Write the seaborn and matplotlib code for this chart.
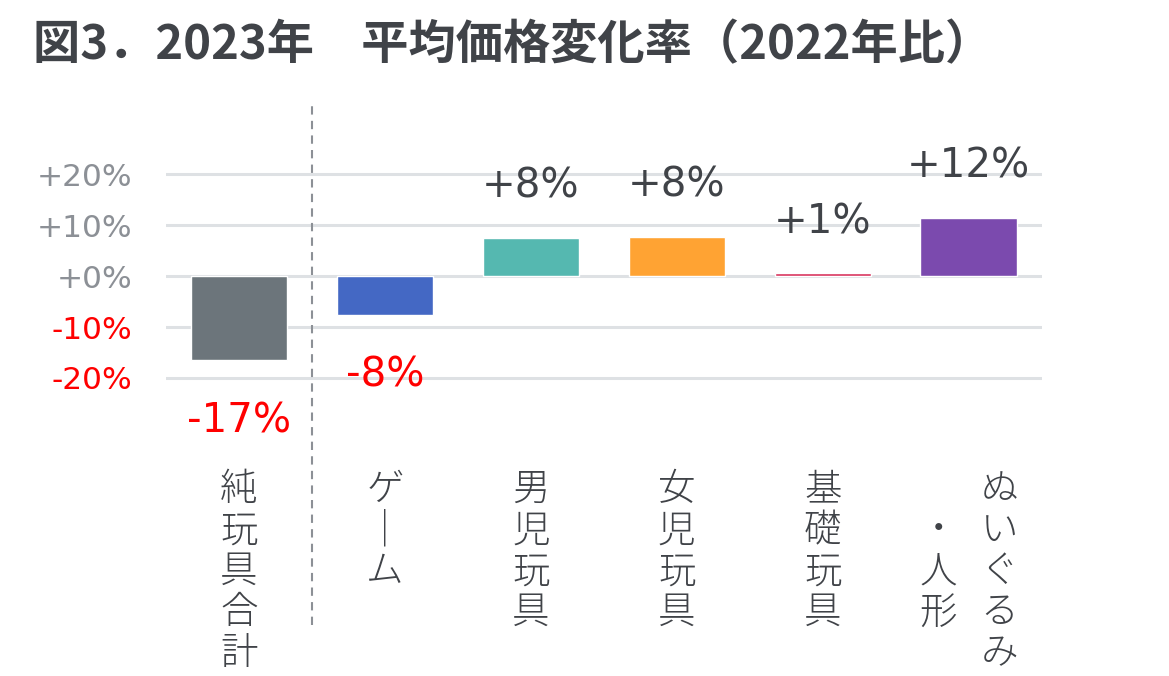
import matplotlib as mpl
import matplotlib.pyplot as plt
import seaborn as sns
import pandas as pd

# data
categories = ["純玩具合計", "ゲーム", "男児玩具", "女児玩具", "基礎玩具", "ぬいぐるみ・人形"]
values = [-16.5, -7.6, 7.5, 7.6, 0.5, 11.4]
value_labels = ["-17%", "-8%", "+8%", "+8%", "+1%", "+12%"]
bar_colors = ["#6c757b", "#4468c4", "#55b8b0", "#ffa333", "#d8315b", "#7b4aae"]
y_ticks = [-20, -10, 0, 10, 20]
y_tick_labels = ["-20%", "-10%", "+0%", "+10%", "+20%"]
title = "図3．2023年　平均価格変化率（2022年比）"

sns.set_theme(style="white")
plt.rcParams['font.family'] = ['DejaVu Sans', 'Noto Sans CJK JP']
cjk = ['Noto Sans CJK JP', 'DejaVu Sans']

dark = "#404348"
red = "#ff0000"
gray = "#8c9096"


def vertical(s):
    # stack characters top to bottom, long vowel mark turned upright
    return "\n".join(s.replace("ー", "｜"))


df = pd.DataFrame({"cat": categories, "val": values})

fig = plt.figure(figsize=(11.69, 6.76), dpi=100)
ax = fig.add_axes([0.142, 0.4333, 0.749, 0.3167])

sns.barplot(data=df, x="cat", y="val", hue="cat", palette=bar_colors,
            width=0.66, saturation=1, legend=False, ax=ax, zorder=3)

ax.set_ylim(-21, 21)
ax.set_xlim(-0.5, len(categories) - 0.5)
ax.set_yticks(y_ticks)
ax.set_yticklabels(y_tick_labels)
for t, v in zip(ax.get_yticklabels(), y_ticks):
    t.set_color(red if v < 0 else gray)
ax.tick_params(axis='y', length=0, pad=24, labelsize=22.5)
ax.set_xticks([])
ax.set_xlabel("")
ax.set_ylabel("")
ax.grid(axis='y', color="#dee1e4", lw=2.2, zorder=0)
for s in ax.spines.values():
    s.set_visible(False)

# value labels
for i, (v, lab) in enumerate(zip(values, value_labels)):
    if v >= 0:
        ax.annotate(lab, (i, v), xytext=(0, 37), textcoords="offset points",
                    ha="center", va="center", fontsize=29, color=dark)
    else:
        ax.annotate(lab, (i, v), xytext=(0, -44), textcoords="offset points",
                    ha="center", va="center", fontsize=29, color=red)

# vertical category labels
for i, c in enumerate(categories):
    if "・" in c:
        right, left = c.split("・")
        cols = [(vertical(right), 22), ("\u3000\n・\n" + vertical(left), -22)]
    else:
        cols = [(vertical(c), 0)]
    for txt, dx in cols:
        ax.annotate(txt, (i, -38), xytext=(dx, 0), textcoords="offset points",
                    ha="center", va="top", fontsize=27, color=dark,
                    family=cjk, fontweight="light", linespacing=1.05,
                    annotation_clip=False)

# dashed separator after the total
ax.axvline(0.5, ymin=-1.13, ymax=1.32, clip_on=False, color="#8c9096",
           ls=(0, (4, 3)), lw=1.5)

fig.text(0.028, 0.933, title, fontsize=34, fontweight="bold", color=dark,
         family=cjk, ha="left", va="center")

fig.savefig("out.png", dpi=100)
